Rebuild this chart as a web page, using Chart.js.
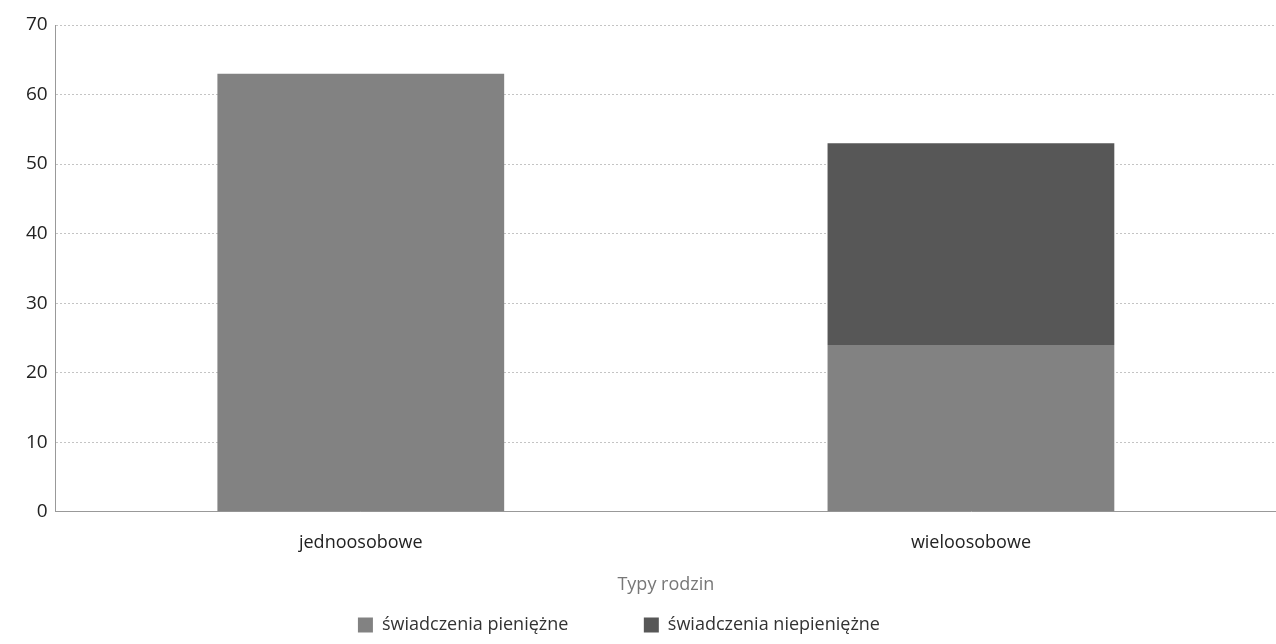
<!DOCTYPE html>
<html>
<head>
<meta charset="utf-8">
<script src="https://cdn.jsdelivr.net/npm/chart.js@4/dist/chart.umd.min.js"></script>
<style>
  html, body { margin: 0; padding: 0; background: #fff; }
  #wrap { width: 1276px; height: 644px; }
</style>
</head>
<body>
<div id="wrap"><canvas id="c" width="1276" height="644"></canvas></div>
<script>
// Categories and series
const categories = ['jednoosobowe', 'wieloosobowe'];
const pieniezne = [63, 24];
const niepieniezne = [0, 29];
const yTicks = [0, 10, 20, 30, 40, 50, 60, 70];

// extra room after each legend entry (the scan has wide gaps)
const legendGap = [14, 12];

const ctx = document.getElementById('c').getContext('2d');

new Chart(ctx, {
  type: 'bar',
  data: {
    labels: categories,
    datasets: [
      {
        label: 'świadczenia pieniężne',
        data: pieniezne,
        backgroundColor: '#828282'
      },
      {
        label: 'świadczenia niepieniężne',
        data: niepieniezne,
        backgroundColor: '#575757'
      }
    ]
  },
  options: {
    responsive: false,
    animation: false,
    layout: { padding: { top: 25, right: 0, left: 18, bottom: 0 } },
    datasets: {
      bar: { categoryPercentage: 0.94, barPercentage: 0.5 }
    },
    plugins: {
      legend: {
        position: 'bottom',
        labels: {
          font: { family: 'Open Sans', size: 18 },
          color: '#333',
          boxWidth: 15,
          boxHeight: 15,
          padding: 10,
          generateLabels: chart => {
            const items = Chart.defaults.plugins.legend.labels.generateLabels(chart);
            items.forEach((it, i) => { it.text = it.text + ' '.repeat(legendGap[i]); });
            return items;
          }
        }
      },
      tooltip: { enabled: false }
    },
    scales: {
      x: {
        stacked: true,
        grid: { display: false },
        border: { display: true, color: '#999', dash: [2, 2] },
        ticks: {
          font: { family: 'Open Sans', size: 18 },
          color: '#222',
          padding: 12
        },
        title: {
          display: true,
          text: 'Typy rodzin',
          font: { family: 'Open Sans', size: 18 },
          color: '#777',
          padding: { top: 9, bottom: 10 }
        }
      },
      y: {
        stacked: true,
        min: 0,
        max: 70,
        afterBuildTicks: axis => {
          axis.ticks = yTicks.map(v => ({ value: v }));
        },
        grid: {
          color: '#c4c4c4',
          drawTicks: false
        },
        border: { display: true, color: '#999', dash: [2, 2] },
        ticks: {
          font: { family: 'Open Sans', size: 19 },
          color: '#222',
          padding: 8
        }
      }
    }
  },
  plugins: [{
    id: 'dottedGrid',
    beforeDraw: chart => {
      chart.scales.y.options.grid.borderDash = [2, 2];
    }
  }]
});
</script>
</body>
</html>
